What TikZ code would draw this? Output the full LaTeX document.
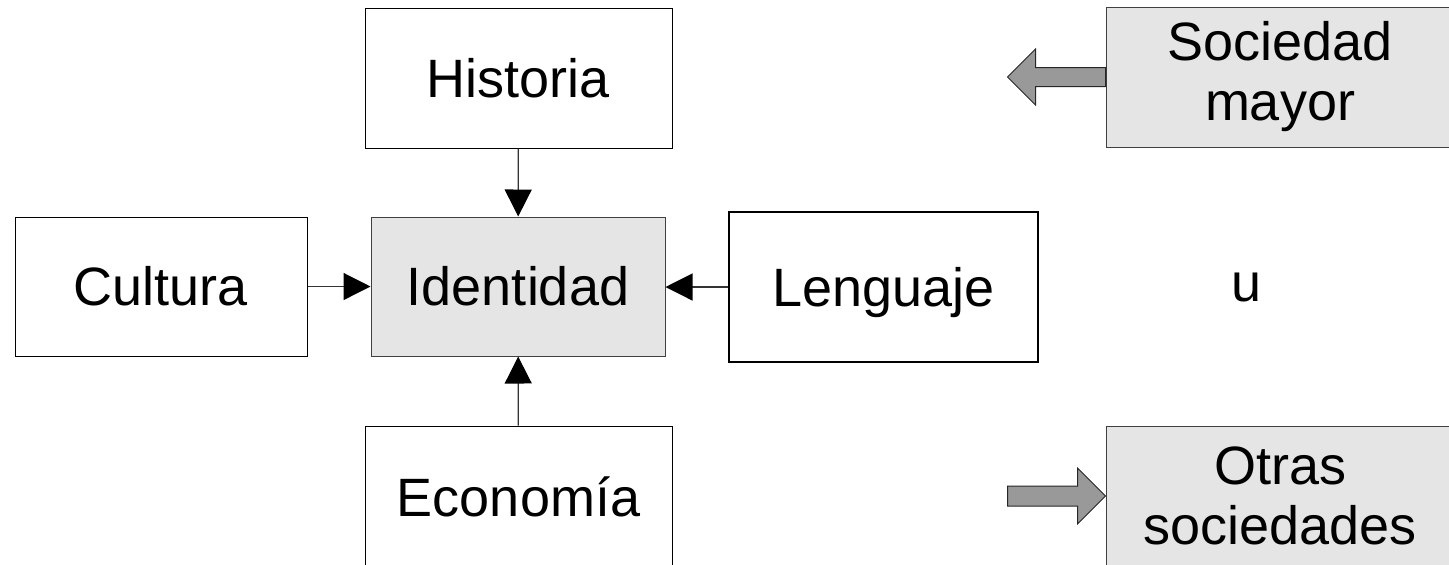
\documentclass[tikz,border=0pt]{standalone}
\usepackage{fontspec}
\setmainfont{Liberation Sans}
\usetikzlibrary{arrows.meta,calc}
\tikzset{>={Triangle[length=13.5pt,width=13.5pt,black]}}

\begin{document}
\begin{tikzpicture}[x=0.5pt, y=-0.5pt,
    box/.style={draw, line width=0.5pt, inner sep=0pt, align=center,
      font=\fontsize{27}{30}\selectfont},
    grey/.style={fill=black!10, draw=black!75},
    link/.style={->, line width=0.6pt, draw=black!80},
    bigarrow/.style={fill=black!40, draw=black!85, line width=0.5pt}]
        \useasboundingbox (0,0) rectangle (1449,564);
        \node[box, minimum width=153.5pt, minimum height=70pt] (hist) at (518.5,78) {Historia};
        \node[box, minimum width=146pt, minimum height=69.5pt] (cult) at (161,286.5) {Cultura};
        \node[box, grey, minimum width=147pt, minimum height=69.5pt] (iden) at (518,286.5) {Identidad};
        \node[box, line width=1pt, text depth=0pt, minimum width=154.5pt, minimum height=75pt] (leng) at (883.5,287) {Lenguaje};
        \node[box, minimum width=153.5pt, minimum height=71pt] (econ) at (518.5,497) {Econom\'ia};
        \node[box, grey, minimum width=174pt, minimum height=70pt] (socm) at (1280,77) {Sociedad\\mayor};
        \node[box, grey, minimum width=174pt, minimum height=70pt] (otra) at (1280,496) {Otras\\sociedades};
        \node[font=\fontsize{27}{30}\selectfont] (u) at (1246,287) {u};

        \draw[link] (hist) -- (iden);
        \draw[link] (cult) -- (iden);
        \draw[link] (leng.west) -- (iden.east |- leng.west);
        \draw[link] (econ) -- (iden);

        % block arrows beside the grey boxes
        \draw[bigarrow] ($(socm.west)+(0,-9.5)$) -- ++(-70,0) -- ++(0,-18.5)
          -- ($(socm.west)+(-98,0)$) -- ++(28,28) -- ++(0,-18.5) -- ($(socm.west)+(0,9.5)$) -- cycle;
        \draw[bigarrow] ($(otra.west)+(-98,-10)$) -- ++(70,0) -- ++(0,-18)
          -- (otra.west) -- ++(-28,28) -- ++(0,-18) -- ++(-70,0) -- cycle;
\end{tikzpicture}
\end{document}
